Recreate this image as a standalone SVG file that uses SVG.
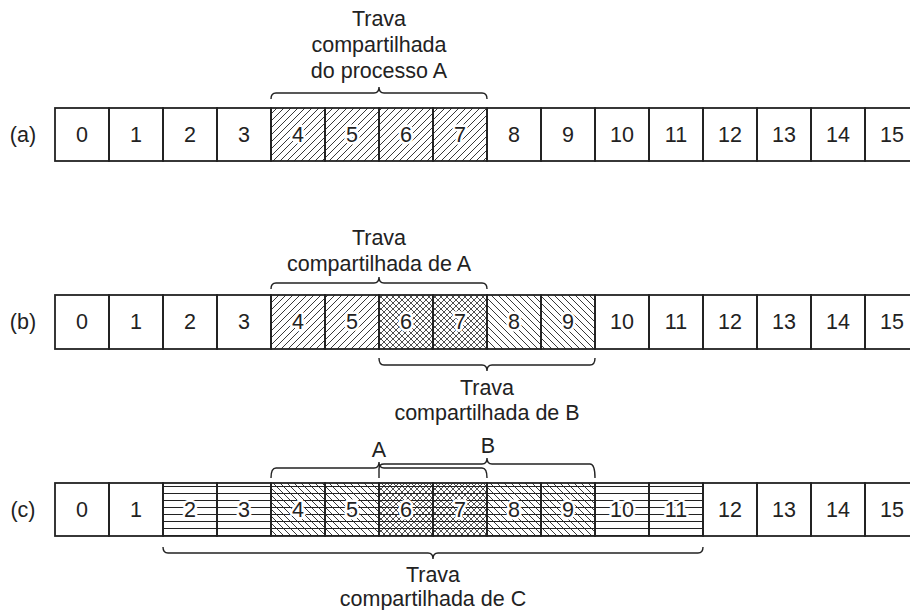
<svg xmlns="http://www.w3.org/2000/svg" width="910" height="610" viewBox="0 0 910 610">
<style>
.bg{fill:#fff}
.cell{fill:none;stroke:#222;stroke-width:1.8}
.t{font-family:"Liberation Sans",Arial,Helvetica,sans-serif;font-size:21.5px;fill:#222;text-anchor:middle}
.h{stroke:#fff;stroke-width:5;stroke-linejoin:round;paint-order:stroke}
.br{fill:none;stroke:#222;stroke-width:1.4}
.fw{fill:url(#fwd)}
.bk{fill:url(#back)}
.cr{fill:url(#cross)}
.hz{fill:url(#horiz)}
</style>
<defs>
<pattern id="fwd" patternUnits="userSpaceOnUse" width="7" height="7">
<path d="M-1,1 L1,-1 M0,7 L7,0 M6,8 L8,6" stroke="#222" stroke-width="0.9"/>
</pattern>
<pattern id="back" patternUnits="userSpaceOnUse" width="7" height="7">
<path d="M-1,6 L1,8 M0,0 L7,7 M6,-1 L8,1" stroke="#222" stroke-width="0.9"/>
</pattern>
<pattern id="cross" patternUnits="userSpaceOnUse" width="6" height="6">
<path d="M-1,1 L1,-1 M0,6 L6,0 M5,7 L7,5 M-1,5 L1,7 M0,0 L6,6 M5,-1 L7,1" stroke="#222" stroke-width="0.8"/>
</pattern>
<pattern id="horiz" patternUnits="userSpaceOnUse" width="10" height="7" y="0">
<path d="M0,3.5 H10" stroke="#222" stroke-width="1"/>
</pattern>
</defs>
<rect class="bg" x="0" y="0" width="910" height="610"/>

<text class="t" x="23" y="142">(a)</text>
<text class="t" x="23" y="329">(b)</text>
<text class="t" x="23" y="517">(c)</text>

<!-- Row a -->
<g id="row-a">
<g id="a0"><rect class="cell" x="55" y="108" width="54" height="53"/><text class="t" x="82" y="142">0</text></g>
<g id="a1"><rect class="cell" x="109" y="108" width="54" height="53"/><text class="t" x="136" y="142">1</text></g>
<g id="a2"><rect class="cell" x="163" y="108" width="54" height="53"/><text class="t" x="190" y="142">2</text></g>
<g id="a3"><rect class="cell" x="217" y="108" width="54" height="53"/><text class="t" x="244" y="142">3</text></g>
<g id="a4"><rect class="fw" x="271" y="108" width="54" height="53"/><rect class="cell" x="271" y="108" width="54" height="53"/><text class="t h" x="298" y="142">4</text></g>
<g id="a5"><rect class="fw" x="325" y="108" width="54" height="53"/><rect class="cell" x="325" y="108" width="54" height="53"/><text class="t h" x="352" y="142">5</text></g>
<g id="a6"><rect class="fw" x="379" y="108" width="54" height="53"/><rect class="cell" x="379" y="108" width="54" height="53"/><text class="t h" x="406" y="142">6</text></g>
<g id="a7"><rect class="fw" x="433" y="108" width="54" height="53"/><rect class="cell" x="433" y="108" width="54" height="53"/><text class="t h" x="460" y="142">7</text></g>
<g id="a8"><rect class="cell" x="487" y="108" width="54" height="53"/><text class="t" x="514" y="142">8</text></g>
<g id="a9"><rect class="cell" x="541" y="108" width="54" height="53"/><text class="t" x="568" y="142">9</text></g>
<g id="a10"><rect class="cell" x="595" y="108" width="54" height="53"/><text class="t" x="622" y="142">10</text></g>
<g id="a11"><rect class="cell" x="649" y="108" width="54" height="53"/><text class="t" x="676" y="142">11</text></g>
<g id="a12"><rect class="cell" x="703" y="108" width="54" height="53"/><text class="t" x="730" y="142">12</text></g>
<g id="a13"><rect class="cell" x="757" y="108" width="54" height="53"/><text class="t" x="784" y="142">13</text></g>
<g id="a14"><rect class="cell" x="811" y="108" width="54" height="53"/><text class="t" x="838" y="142">14</text></g>
<g id="a15"><rect class="cell" x="865" y="108" width="54" height="53"/><text class="t" x="892" y="142">15</text></g>
</g>

<!-- Row b -->
<g id="row-b">
<g id="b0"><rect class="cell" x="55" y="295" width="54" height="54"/><text class="t" x="82" y="329">0</text></g>
<g id="b1"><rect class="cell" x="109" y="295" width="54" height="54"/><text class="t" x="136" y="329">1</text></g>
<g id="b2"><rect class="cell" x="163" y="295" width="54" height="54"/><text class="t" x="190" y="329">2</text></g>
<g id="b3"><rect class="cell" x="217" y="295" width="54" height="54"/><text class="t" x="244" y="329">3</text></g>
<g id="b4"><rect class="fw" x="271" y="295" width="54" height="54"/><rect class="cell" x="271" y="295" width="54" height="54"/><text class="t h" x="298" y="329">4</text></g>
<g id="b5"><rect class="fw" x="325" y="295" width="54" height="54"/><rect class="cell" x="325" y="295" width="54" height="54"/><text class="t h" x="352" y="329">5</text></g>
<g id="b6"><rect class="cr" x="379" y="295" width="54" height="54"/><rect class="cell" x="379" y="295" width="54" height="54"/><text class="t h" x="406" y="329">6</text></g>
<g id="b7"><rect class="cr" x="433" y="295" width="54" height="54"/><rect class="cell" x="433" y="295" width="54" height="54"/><text class="t h" x="460" y="329">7</text></g>
<g id="b8"><rect class="bk" x="487" y="295" width="54" height="54"/><rect class="cell" x="487" y="295" width="54" height="54"/><text class="t h" x="514" y="329">8</text></g>
<g id="b9"><rect class="bk" x="541" y="295" width="54" height="54"/><rect class="cell" x="541" y="295" width="54" height="54"/><text class="t h" x="568" y="329">9</text></g>
<g id="b10"><rect class="cell" x="595" y="295" width="54" height="54"/><text class="t" x="622" y="329">10</text></g>
<g id="b11"><rect class="cell" x="649" y="295" width="54" height="54"/><text class="t" x="676" y="329">11</text></g>
<g id="b12"><rect class="cell" x="703" y="295" width="54" height="54"/><text class="t" x="730" y="329">12</text></g>
<g id="b13"><rect class="cell" x="757" y="295" width="54" height="54"/><text class="t" x="784" y="329">13</text></g>
<g id="b14"><rect class="cell" x="811" y="295" width="54" height="54"/><text class="t" x="838" y="329">14</text></g>
<g id="b15"><rect class="cell" x="865" y="295" width="54" height="54"/><text class="t" x="892" y="329">15</text></g>
</g>

<!-- Row c -->
<g id="row-c">
<g id="c0"><rect class="cell" x="55" y="483" width="54" height="53"/><text class="t" x="82" y="517">0</text></g>
<g id="c1"><rect class="cell" x="109" y="483" width="54" height="53"/><text class="t" x="136" y="517">1</text></g>
<g id="c2"><rect class="hz" x="163" y="483" width="54" height="53"/><rect class="cell" x="163" y="483" width="54" height="53"/><text class="t h" x="190" y="517">2</text></g>
<g id="c3"><rect class="hz" x="217" y="483" width="54" height="53"/><rect class="cell" x="217" y="483" width="54" height="53"/><text class="t h" x="244" y="517">3</text></g>
<g id="c4"><rect class="bk" x="271" y="483" width="54" height="53"/><rect class="hz" x="271" y="483" width="54" height="53"/><rect class="cell" x="271" y="483" width="54" height="53"/><text class="t h" x="298" y="517">4</text></g>
<g id="c5"><rect class="bk" x="325" y="483" width="54" height="53"/><rect class="hz" x="325" y="483" width="54" height="53"/><rect class="cell" x="325" y="483" width="54" height="53"/><text class="t h" x="352" y="517">5</text></g>
<g id="c6"><rect class="cr" x="379" y="483" width="54" height="53"/><rect class="hz" x="379" y="483" width="54" height="53"/><rect class="cell" x="379" y="483" width="54" height="53"/><text class="t h" x="406" y="517">6</text></g>
<g id="c7"><rect class="cr" x="433" y="483" width="54" height="53"/><rect class="hz" x="433" y="483" width="54" height="53"/><rect class="cell" x="433" y="483" width="54" height="53"/><text class="t h" x="460" y="517">7</text></g>
<g id="c8"><rect class="bk" x="487" y="483" width="54" height="53"/><rect class="hz" x="487" y="483" width="54" height="53"/><rect class="cell" x="487" y="483" width="54" height="53"/><text class="t h" x="514" y="517">8</text></g>
<g id="c9"><rect class="bk" x="541" y="483" width="54" height="53"/><rect class="hz" x="541" y="483" width="54" height="53"/><rect class="cell" x="541" y="483" width="54" height="53"/><text class="t h" x="568" y="517">9</text></g>
<g id="c10"><rect class="hz" x="595" y="483" width="54" height="53"/><rect class="cell" x="595" y="483" width="54" height="53"/><text class="t h" x="622" y="517">10</text></g>
<g id="c11"><rect class="hz" x="649" y="483" width="54" height="53"/><rect class="cell" x="649" y="483" width="54" height="53"/><text class="t h" x="676" y="517">11</text></g>
<g id="c12"><rect class="cell" x="703" y="483" width="54" height="53"/><text class="t" x="730" y="517">12</text></g>
<g id="c13"><rect class="cell" x="757" y="483" width="54" height="53"/><text class="t" x="784" y="517">13</text></g>
<g id="c14"><rect class="cell" x="811" y="483" width="54" height="53"/><text class="t" x="838" y="517">14</text></g>
<g id="c15"><rect class="cell" x="865" y="483" width="54" height="53"/><text class="t" x="892" y="517">15</text></g>
</g>

<!-- Braces -->
<g id="connectors">
<path class="br" d="M271,99 Q271,93 276,93 H374 Q379,93 379,87 Q379,93 384,93 H482 Q487,93 487,99"/>
<path class="br" d="M271,289 Q271,283 276,283 H374 Q379,283 379,277 Q379,283 384,283 H482 Q487,283 487,289"/>
<path class="br" d="M379,358 Q379,365 384,365 H482 Q487,365 487,371 Q487,365 492,365 H590 Q595,365 595,358"/>
<path class="br" d="M271,478 Q271,468 276,468 H374 Q379,468 379,462 Q379,468 384,468 H482 Q487,468 487,478"/>
<path class="br" d="M379,478 L379,469 Q379,464 384,464 H482 Q487,464 487,458 Q487,464 492,464 H590 Q595,464 595,478"/>
<path class="br" d="M163,547 Q163,553 168,553 H428 Q433,553 433,559 Q433,553 438,553 H698 Q703,553 703,547"/>
</g>

<!-- Labels -->
<g id="labels">
<text class="t" x="379" y="26">Trava</text>
<text class="t" x="379" y="52">compartilhada</text>
<text class="t" x="379" y="78">do processo A</text>
<text class="t" x="379" y="245">Trava</text>
<text class="t" x="379" y="271">compartilhada de A</text>
<text class="t" x="487" y="395">Trava</text>
<text class="t" x="487" y="420">compartilhada de B</text>
<text class="t" x="379" y="457">A</text>
<text class="t" x="488" y="453">B</text>
<text class="t" x="433" y="582">Trava</text>
<text class="t" x="433" y="606">compartilhada de C</text>
</g>
</svg>
